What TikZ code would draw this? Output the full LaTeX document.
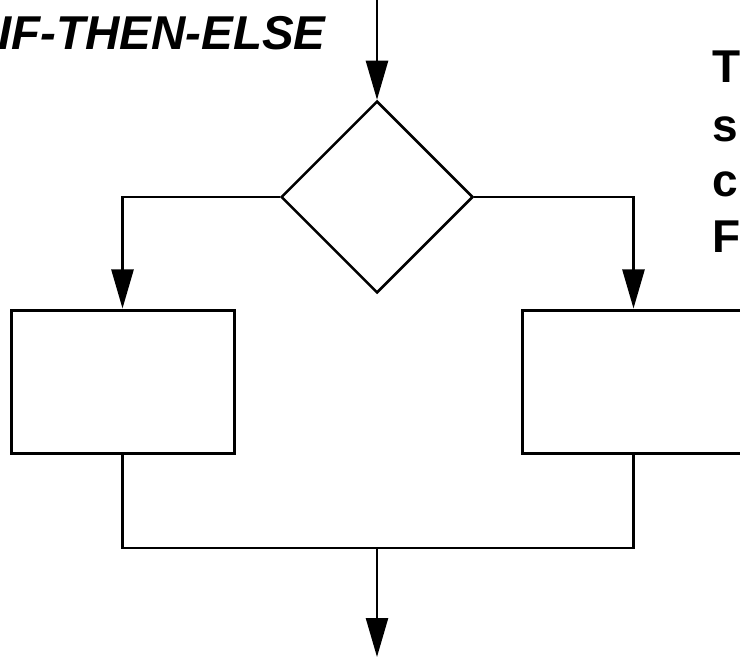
\documentclass[tikz,border=0pt]{standalone}
\usepackage{fontspec}
\setmainfont{Liberation Sans}
\usetikzlibrary{arrows.meta,shapes.geometric}

\begin{document}
\begin{tikzpicture}[x=1pt,y=-1pt,
	line width=2.5pt,
	arr/.style={-{Triangle[length=39pt,width=22pt]}},
	procbox/.style={draw,line width=3pt,minimum width=223pt,minimum height=143pt,inner sep=0pt},
	test/.style={draw,diamond,minimum width=192pt,minimum height=192pt,inner sep=0pt},
	big/.style={inner sep=0pt,anchor=base west,font=\fontsize{46}{55}\selectfont\bfseries}]
	\useasboundingbox (0,0) rectangle (740,658);
	\clip (0,0) rectangle (740,658);
	%\draw[help lines] (0,0) grid[step=50] (740,658);
	\node[big,font=\fontsize{47.5}{57}\selectfont\bfseries\itshape] (title) at (-3,50) {IF-THEN-ELSE};
	\node[big] (t1) at (711,83) {T};
	\node[big] (t2) at (711,142) {s};
	\node[big] (t3) at (711,197) {c};
	\node[big] (t4) at (711,253) {F};
	\coordinate (in) at (377,-5);
	\node[test] (cond) at (377,197) {};
	\node[procbox] (thenbox) at (122.5,381.5) {};
	\node[procbox] (elsebox) at (633.5,381.5) {};
	\coordinate (join) at (377,548);
	\coordinate (out) at (377,657);
	\draw[arr] (in) -- (cond.north);
	\draw[arr] (cond.west) -| (thenbox.north);
	\draw[arr] (cond.east) -| (elsebox.north);
	\draw (thenbox.south) |- (join) -| (elsebox.south);
	\draw[arr] (join) -- (out);
\end{tikzpicture}
\end{document}
